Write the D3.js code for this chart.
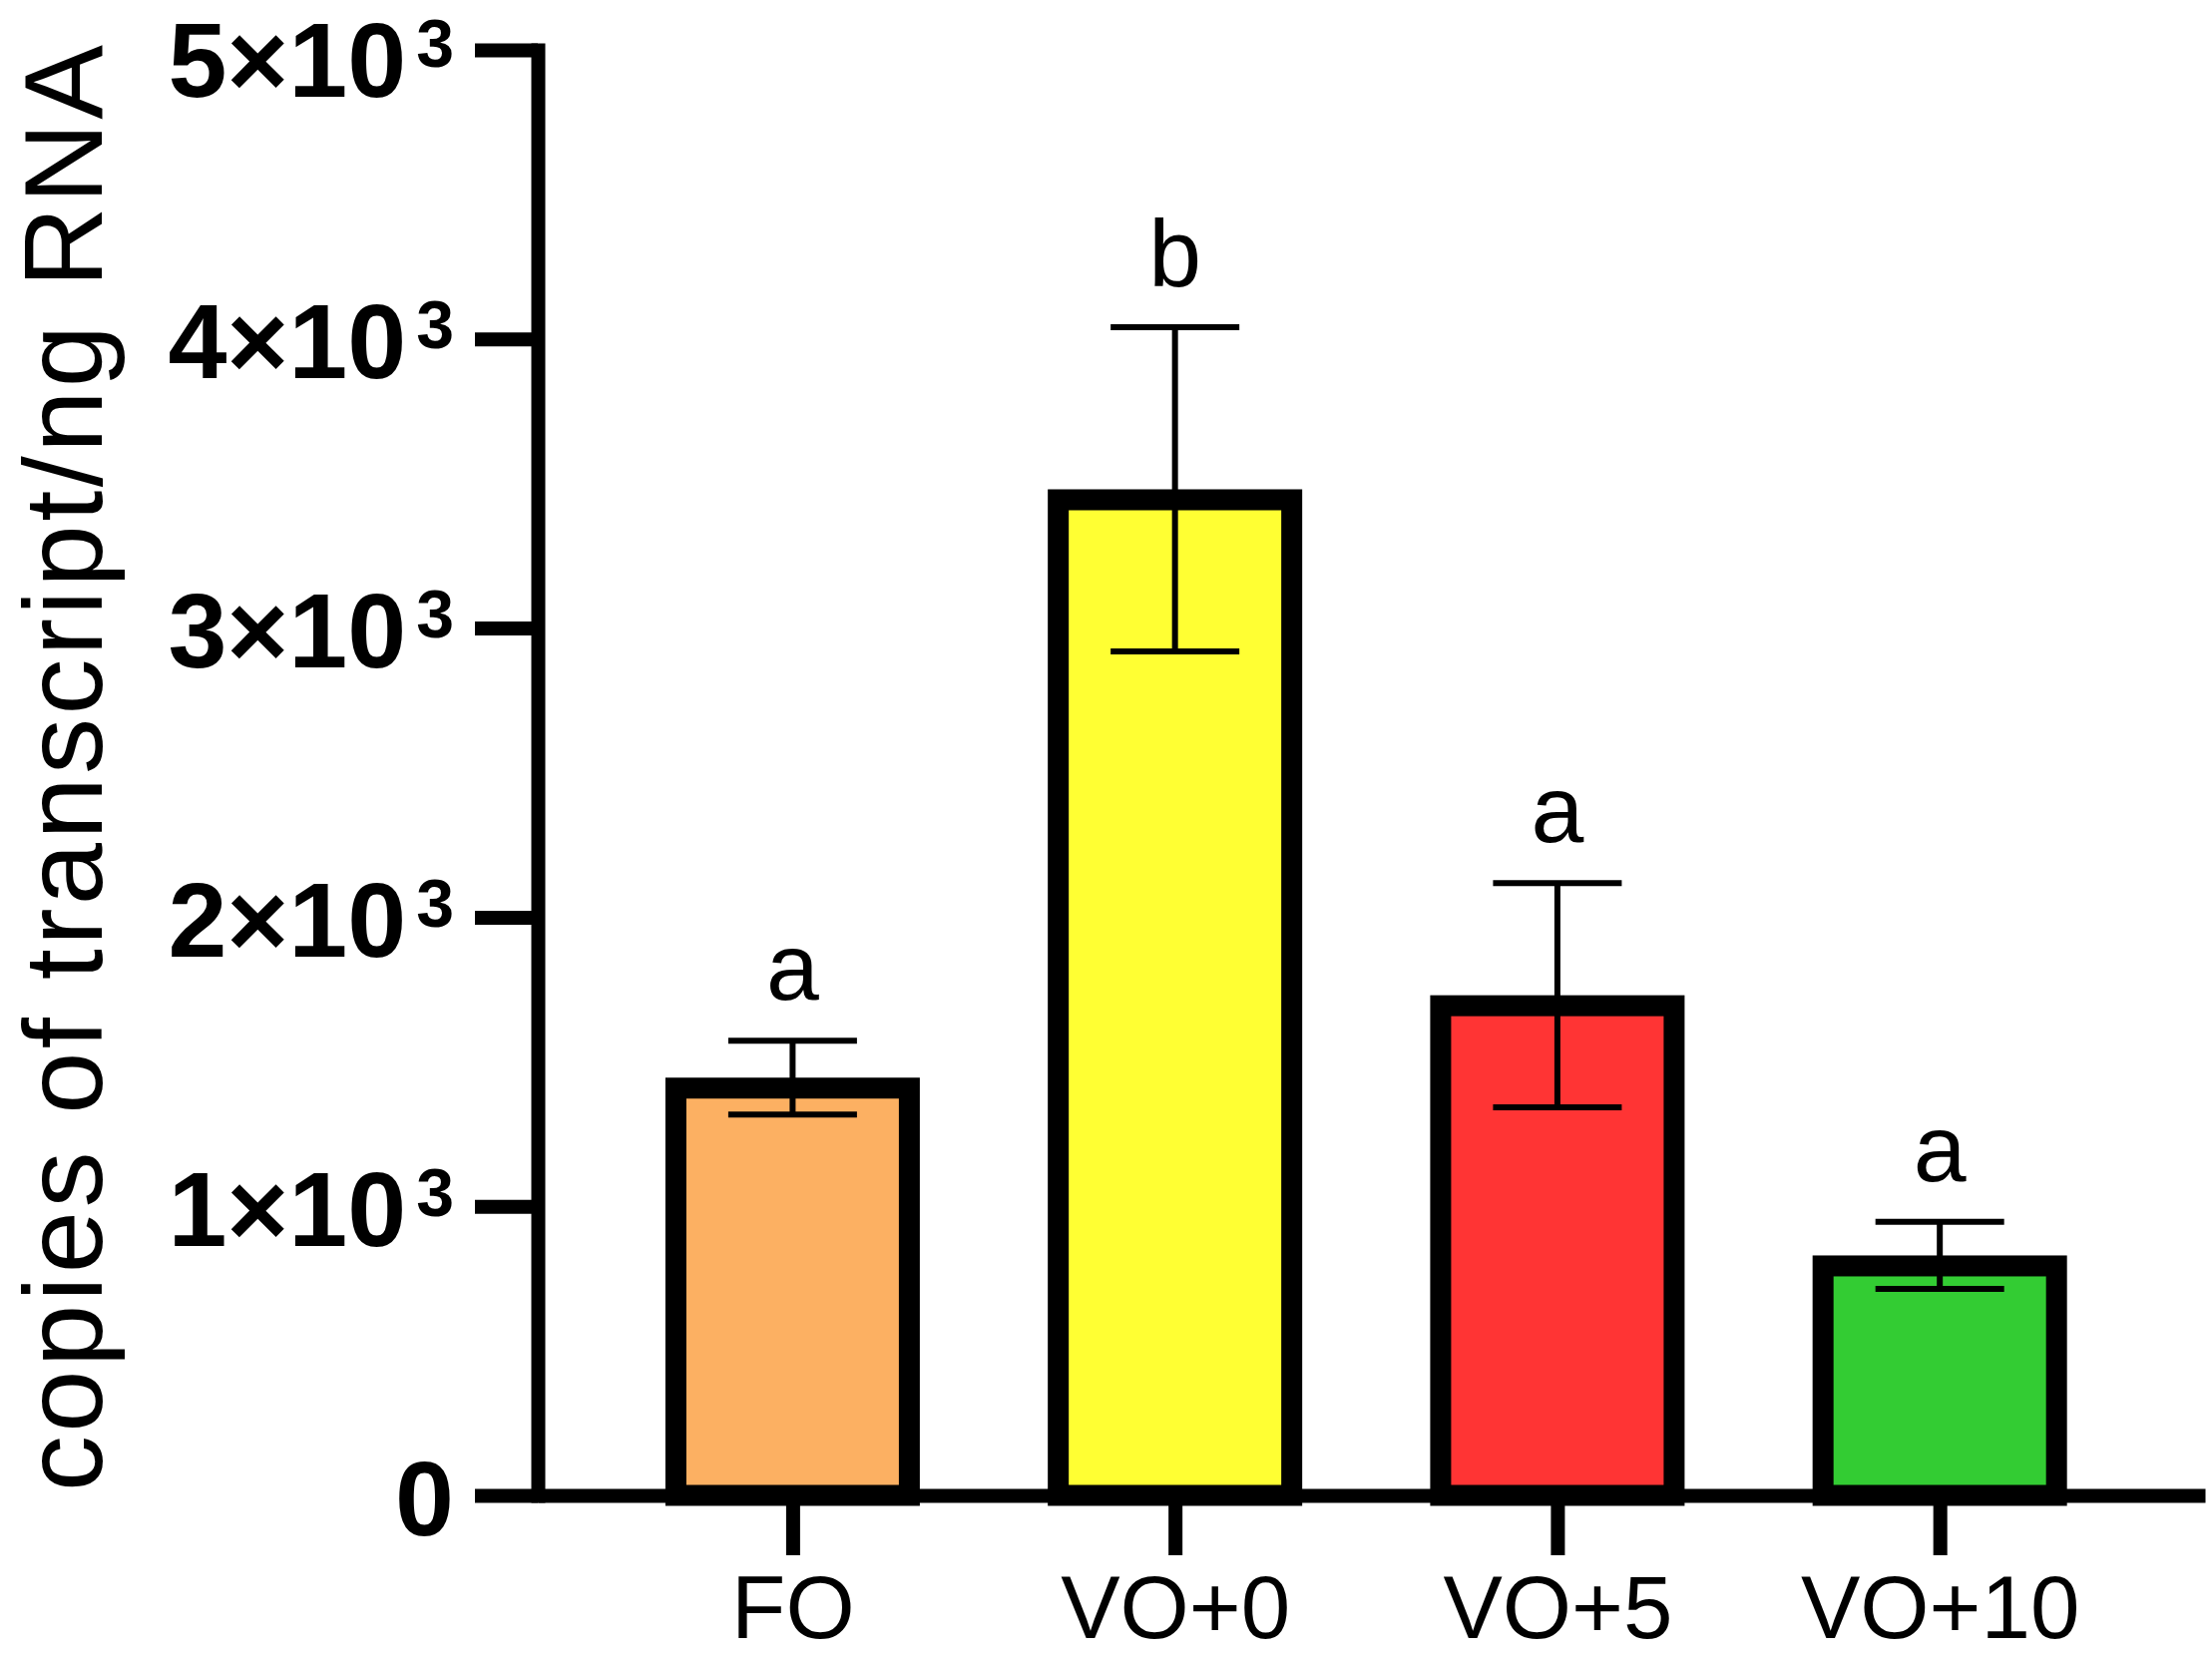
<!DOCTYPE html>
<html>
<head>
<meta charset="utf-8">
<script src="https://cdn.jsdelivr.net/npm/d3@7"></script>
<style>
  body { margin: 0; background: #fff; }
  svg { display: block; }
  text { font-family: "Liberation Sans", Arial, sans-serif; fill: #000; }
</style>
</head>
<body>
<div id="chart"></div>
<script>
// data
let groups = ['FO', 'VO+0', 'VO+5', 'VO+10'];
let means = [1445, 3480, 1730, 830];
let errors = [128, 561, 388, 116];
let letters = ['a', 'b', 'a', 'a'];
let fills = ['#FCB062', '#FFFF33', '#FF3434', '#33CC33'];

let yTickValues = [0, 1000, 2000, 3000, 4000, 5000];
let yTickBase = ['0', '1×10', '2×10', '3×10', '4×10', '5×10'];
let yTickSup = ['', '3', '3', '3', '3', '3'];
let yTitle = 'copies of transcript/ng RNA';

let W = 2217; // width
let H = 1661; // height
let axisX = 539; // y axis position
let axisY = 1499; // x axis position
let lineW = 14; // axis stroke width
let barW = 234; // bar width (stroke centre)
let barStroke = 21;
let capHalf = 64.5;

let svg = d3.select('#chart').append('svg')
    .attr('width', W)
    .attr('height', H);

// y scale
let yScale = d3.scaleLinear()
    .domain([0, 5000])
    .range([axisY, 50]);

// x scale, point positions for the bar centres
let xScale = d3.scalePoint()
    .domain(groups)
    .range([axisX, 2210])
    .padding(0.68)
    .align(0.49);

// bars
svg.append('g').selectAll('rect')
    .data(groups)
    .enter().append('rect')
    .attr('x', d => xScale(d) - barW / 2)
    .attr('y', (d, i) => yScale(means[i]) + barStroke / 2)
    .attr('width', barW)
    .attr('height', (d, i) => yScale(0) - yScale(means[i]) - barStroke / 2)
    .attr('fill', (d, i) => fills[i])
    .attr('stroke', '#000')
    .attr('stroke-width', barStroke);

// error bars
let errG = svg.append('g').attr('stroke', '#000').attr('stroke-width', 6);
groups.forEach((g, i) => {
  let cx = xScale(g);
  let top = yScale(means[i] + errors[i]);
  let bot = yScale(means[i] - errors[i]);
  errG.append('line').attr('x1', cx).attr('x2', cx).attr('y1', top).attr('y2', bot);
  errG.append('line').attr('x1', cx - capHalf).attr('x2', cx + capHalf).attr('y1', top).attr('y2', top);
  errG.append('line').attr('x1', cx - capHalf).attr('x2', cx + capHalf).attr('y1', bot).attr('y2', bot);
});

// significance letters
svg.append('g').selectAll('text')
    .data(groups)
    .enter().append('text')
    .attr('x', d => xScale(d))
    .attr('y', (d, i) => yScale(means[i] + errors[i]) - 41)
    .attr('text-anchor', 'middle')
    .attr('font-size', 95)
    .text((d, i) => letters[i]);

// x axis
let xAxis = svg.append('g')
    .attr('transform', `translate(0, ${axisY})`)
    .call(d3.axisBottom(xScale).tickSize(60).tickSizeOuter(0));
xAxis.select('.domain').attr('stroke-width', lineW);
xAxis.selectAll('.tick line').attr('stroke-width', lineW);
xAxis.selectAll('.tick text')
    .attr('y', 143)
    .attr('dy', null)
    .attr('font-size', 89)
    .attr('font-family', '"Liberation Sans", Arial, sans-serif');

// y axis
let yAxis = svg.append('g')
    .attr('transform', `translate(${axisX}, 0)`)
    .call(d3.axisLeft(yScale).tickValues(yTickValues).tickSize(63).tickSizeOuter(0));
yAxis.select('.domain').attr('stroke-width', lineW).attr('stroke-linecap', 'square');
yAxis.selectAll('.tick line').attr('stroke-width', lineW);
yAxis.selectAll('.tick text').each(function(d, i) {
  // the top label is nudged down so it stays inside the picture
  let t = d3.select(this)
      .text(null)
      .attr('x', -84)
      .attr('y', d === 5000 ? 46 : 39)
      .attr('dy', null)
      .attr('text-anchor', 'end')
      .attr('font-size', 106)
      .attr('font-weight', 'bold')
      .attr('font-family', '"Liberation Sans", Arial, sans-serif');
  t.append('tspan').text(yTickBase[i]);
  if (yTickSup[i]) {
    t.append('tspan')
        .attr('dx', 10)
        .attr('dy', -30)
        .attr('font-size', 68)
        .text(yTickSup[i]);
  }
});

// y axis title
svg.append('text')
    .attr('transform', 'translate(102, 1495) rotate(-90)')
    .attr('text-anchor', 'start')
    .attr('font-size', 112)
    .attr('textLength', 1450)
    .attr('lengthAdjust', 'spacing')
    .text(yTitle);
</script>
</body>
</html>
